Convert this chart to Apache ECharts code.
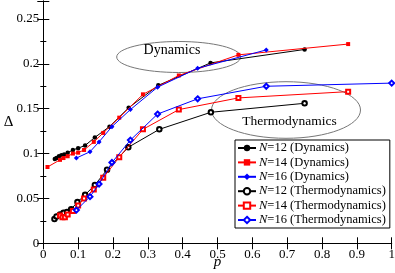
<!DOCTYPE html>
<html><head><meta charset="utf-8">
<script src="https://cdn.jsdelivr.net/npm/echarts@6/dist/echarts.min.js"></script>
<style>html,body{margin:0;padding:0;background:#fff}#c{width:395px;height:273px}</style>
</head><body><div id="c"></div>
<script>
const xTickLabels = ['0','0.1','0.2','0.3','0.4','0.5','0.6','0.7','0.8','0.9','1'];
const yTickLabels = ['0','0.05','0.1','0.15','0.2','0.25'];

const seriesNames = ['N=12 (Dynamics)','N=14 (Dynamics)','N=16 (Dynamics)',
  'N=12 (Thermodynamics)','N=14 (Thermodynamics)','N=16 (Thermodynamics)'];

const dynN12_p = [0.033,0.038,0.045,0.052,0.06,0.07,0.085,0.1,0.12,0.148,0.19,0.245,0.33,0.48,0.75];
const dynN12_d = [0.094,0.095,0.097,0.098,0.099,0.101,0.104,0.106,0.109,0.118,0.130,0.151,0.176,0.201,0.216];

const dynN14_p = [0.012,0.048,0.058,0.07,0.085,0.1,0.117,0.145,0.172,0.218,0.286,0.389,0.56,0.875];
const dynN14_d = [0.085,0.093,0.095,0.097,0.1,0.101,0.104,0.113,0.123,0.140,0.166,0.187,0.21,0.222];

const dynN16_p = [0.095,0.134,0.16,0.197,0.25,0.328,0.443,0.64];
const dynN16_d = [0.095,0.102,0.113,0.130,0.149,0.174,0.195,0.2155];

const thN12_p = [0.032,0.038,0.048,0.058,0.068,0.08,0.098,0.12,0.148,0.183,0.244,0.333,0.481,0.75];
const thN12_d = [0.027,0.030,0.032,0.034,0.035,0.038,0.046,0.054,0.065,0.082,0.107,0.127,0.146,0.156];

const thN14_p = [0.048,0.055,0.062,0.07,0.085,0.1,0.117,0.145,0.172,0.218,0.286,0.389,0.56,0.875];
const thN14_d = [0.031,0.029,0.029,0.032,0.036,0.042,0.05,0.06,0.073,0.096,0.127,0.149,0.162,0.169];

const thN16_p = [0.095,0.134,0.16,0.197,0.25,0.328,0.443,0.64,1.0];
const thN16_d = [0.037,0.052,0.066,0.090,0.115,0.144,0.161,0.175,0.1785];

const colors = ['#000000','#ff0000','#0000ff','#000000','#ff0000','#0000ff'];
const symbols = ['circle','rect','diamond','emptyCircle','emptyRect','emptyDiamond'];
const ps = [dynN12_p,dynN14_p,dynN16_p,thN12_p,thN14_p,thN16_p];
const ds = [dynN12_d,dynN14_d,dynN16_d,thN12_d,thN14_d,thN16_d];

const FONT = 'Liberation Serif';
const chart = echarts.init(document.getElementById('c'), null, {renderer:'canvas'});

const series = seriesNames.map((name,i)=>({
  name, type:'line', data: ps[i].map((p,j)=>[p, ds[i][j]]),
  symbol: symbols[i], symbolSize: [4.5,4,5,4.5,4,5][i],
  showSymbol:true, animation:false,
  lineStyle:{color:colors[i], width:1},
  itemStyle:{color:colors[i], borderColor:colors[i], borderWidth: i>=3?1:0},
  z: 2 + i
}));

const axisCommon = {
  axisLine:{show:true, lineStyle:{color:'#000', width:1}},
  splitLine:{show:false},
};

chart.setOption({
  animation:false,
  backgroundColor:'#fff',
  grid:{left:43.3, right:3.3, top:1, bottom:29.7, containLabel:false, outerBoundsMode:'none'},
  xAxis:[
    Object.assign({type:'value', min:0, max:1, interval:0.1, position:'bottom',
      axisTick:{inside:true, length:6, lineStyle:{color:'#000'}},
      axisLabel:{color:'#000', fontFamily:FONT, fontSize:13, margin:5,
        formatter:(v)=>xTickLabels[Math.round(v*10)]},
      name:'p', nameLocation:'middle', nameGap:11, nameMoveOverlap:false,
      nameTextStyle:{fontFamily:FONT, fontSize:15, fontStyle:'italic', color:'#000'}}, axisCommon),
    Object.assign({type:'value', min:0, max:1, interval:0.1, position:'top',
      axisTick:{inside:true, length:6, lineStyle:{color:'#000'}},
      axisLabel:{show:false}}, axisCommon)
  ],
  yAxis:[
    Object.assign({type:'value', min:0, max:0.27, interval:0.05, position:'left',
      axisTick:{inside:true, length:6, lineStyle:{color:'#000'}},
      minorTick:{show:true, splitNumber:2, length:3, lineStyle:{color:'#000'}},
      axisLabel:{color:'#000', fontFamily:FONT, fontSize:13, margin:4, showMaxLabel:false,
        formatter:(v)=>{const k=Math.round(v/0.05); return (Math.abs(v-k*0.05)<1e-6 && k<yTickLabels.length)? yTickLabels[k]:'';}},
      name:'Δ', nameLocation:'middle', nameGap:30, nameRotate:0, nameMoveOverlap:false,
      nameTextStyle:{fontFamily:FONT, fontSize:15, color:'#000'}}, axisCommon),
    Object.assign({type:'value', min:0, max:0.27, interval:0.05, position:'right',
      axisTick:{inside:true, length:6, lineStyle:{color:'#000'}},
      minorTick:{show:true, splitNumber:2, length:3, lineStyle:{color:'#000'}},
      axisLabel:{show:false}}, axisCommon)
  ],
  legend:{
    orient:'vertical', left:235, top:140, width:150,
    padding:[1,4,1,2], itemGap:0.4, itemWidth:18, itemHeight:8,
    borderColor:'#000', borderWidth:1, backgroundColor:'#fff',
    data: seriesNames,
    formatter:(n)=>'{i|N}'+n.slice(1),
    textStyle:{fontFamily:FONT, fontSize:12.5, lineHeight:14, color:'#000', padding:[0,0,0,-2],
      rich:{i:{fontStyle:'italic', fontFamily:FONT, fontSize:12.5, lineHeight:14}}}
  },
  graphic:[
    {type:'ellipse', shape:{cx:178.7, cy:57, rx:62, ry:15.5}, z:1,
      style:{fill:'none', stroke:'#777', lineWidth:1}},
    {type:'text', x:172, y:50, z:1, style:{text:'Dynamics', font:'14px "Liberation Serif"', fill:'#000', align:'center', verticalAlign:'middle'}},
    {type:'ellipse', shape:{cx:286, cy:110, rx:74.5, ry:28.3}, z:1,
      style:{fill:'none', stroke:'#777', lineWidth:1}},
    {type:'text', x:289.5, y:121, z:1, style:{text:'Thermodynamics', font:'13.5px "Liberation Serif"', fill:'#000', align:'center', verticalAlign:'middle'}}
  ],
  series
});
</script></body></html>
